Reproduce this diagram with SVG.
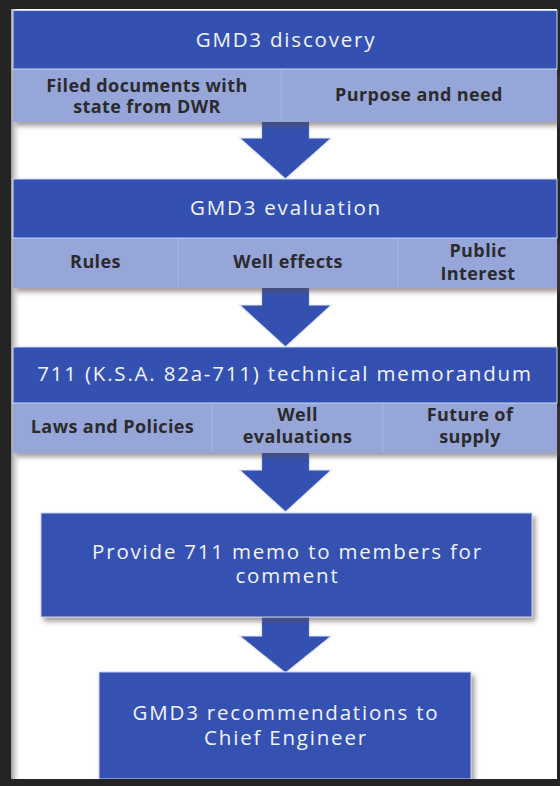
<svg xmlns="http://www.w3.org/2000/svg" width="560" height="786" viewBox="0 0 560 786">
<defs>
<style>
.dark{fill:#3451b2;stroke:#c9d3f0;stroke-width:1}
.light{fill:#97a6d8}
.div{stroke:#aab6e0;stroke-width:1}
.arrow{fill:#3451b2;stroke:#dfe5f7;stroke-width:1.2}
.title{font-family:"Open Sans","Liberation Sans",sans-serif;font-size:20.5px;fill:#f2f4fb;letter-spacing:1.8px;text-anchor:middle}
.lbl{font-family:"Open Sans","Liberation Sans",sans-serif;font-size:18px;font-weight:bold;fill:#2b2b2e;letter-spacing:0.4px;text-anchor:middle}
</style>
<filter id="sh" x="-5%" y="-10%" width="115%" height="130%">
<feGaussianBlur in="SourceAlpha" stdDeviation="2.5"/>
<feOffset dx="3" dy="4" result="b"/>
<feFlood flood-color="#5a4a4a" flood-opacity="0.55"/>
<feComposite in2="b" operator="in"/>
<feMerge><feMergeNode/><feMergeNode in="SourceGraphic"/></feMerge>
</filter>
<linearGradient id="lf" x1="0" y1="0" x2="1" y2="0">
<stop offset="0" stop-color="#888"/>
<stop offset="1" stop-color="#fff" stop-opacity="0"/>
</linearGradient>
</defs>
<rect width="560" height="786" fill="#ffffff"/>
<rect x="10" y="0" width="12" height="786" fill="url(#lf)"/>
<g id="frame" fill="#242424">
<rect x="0" y="0" width="560" height="9"/>
<rect x="0" y="0" width="11" height="786"/>
<rect x="0" y="779" width="560" height="7"/>
<rect x="557" y="0" width="3" height="786"/>
</g>
<g id="connectors">
<path class="arrow" d="M261.5,118 H309.5 V138 H331.5 L285.5,179 L239.5,138 H261.5 Z"/>
<path class="arrow" d="M261.5,284 H309.5 V305 H331.5 L285.5,347 L239.5,305 H261.5 Z"/>
<path class="arrow" d="M261.5,449 H309.5 V470 H331.5 L285.5,512 L239.5,470 H261.5 Z"/>
<path class="arrow" d="M261.5,613 H309.5 V636 H331.5 L285.5,673 L239.5,636 H261.5 Z"/>
</g>
<g id="discovery">
<rect class="light" x="13" y="69" width="544" height="53" filter="url(#sh)"/>
<rect class="dark" x="13" y="10.5" width="544" height="58.5"/>
<line class="div" x1="281" y1="70" x2="281" y2="121"/>
<text class="title" x="286" y="47">GMD3 discovery</text>
<text class="lbl" x="147" y="92">Filed documents with</text>
<text class="lbl" x="147" y="113">state from DWR</text>
<text class="lbl" x="419" y="101">Purpose and need</text>
</g>
<g id="evaluation">
<rect class="light" x="13" y="238" width="544" height="50" filter="url(#sh)"/>
<rect class="dark" x="13" y="179" width="544" height="59"/>
<line class="div" x1="178" y1="239" x2="178" y2="287"/>
<line class="div" x1="398" y1="239" x2="398" y2="287"/>
<text class="title" x="286" y="215">GMD3 evaluation</text>
<text class="lbl" x="95.5" y="268">Rules</text>
<text class="lbl" x="288" y="268">Well effects</text>
<text class="lbl" x="478" y="257">Public</text>
<text class="lbl" x="478" y="280">Interest</text>
</g>
<g id="memorandum">
<rect class="light" x="13" y="403" width="544" height="50" filter="url(#sh)"/>
<rect class="dark" x="13" y="347" width="544" height="56"/>
<line class="div" x1="212" y1="404" x2="212" y2="452"/>
<line class="div" x1="383" y1="404" x2="383" y2="452"/>
<text class="title" x="285" y="381">711 (K.S.A. 82a-711) technical memorandum</text>
<text class="lbl" x="112.5" y="432.5">Laws and Policies</text>
<text class="lbl" x="297.5" y="421">Well</text>
<text class="lbl" x="297.5" y="443">evaluations</text>
<text class="lbl" x="470" y="421">Future of</text>
<text class="lbl" x="470" y="443">supply</text>
</g>
<g id="provide">
<rect class="dark" x="41" y="513" width="491" height="104" filter="url(#sh)"/>
<text class="title" x="287.5" y="559">Provide 711 memo to members for</text>
<text class="title" x="287.5" y="582.5">comment</text>
</g>
<g id="recommendations">
<rect class="dark" x="99" y="672" width="372" height="107" filter="url(#sh)"/>
<text class="title" x="286" y="720">GMD3 recommendations to</text>
<text class="title" x="286" y="745">Chief Engineer</text>
</g>
<rect x="0" y="779" width="560" height="7" fill="#242424"/>
</svg>
